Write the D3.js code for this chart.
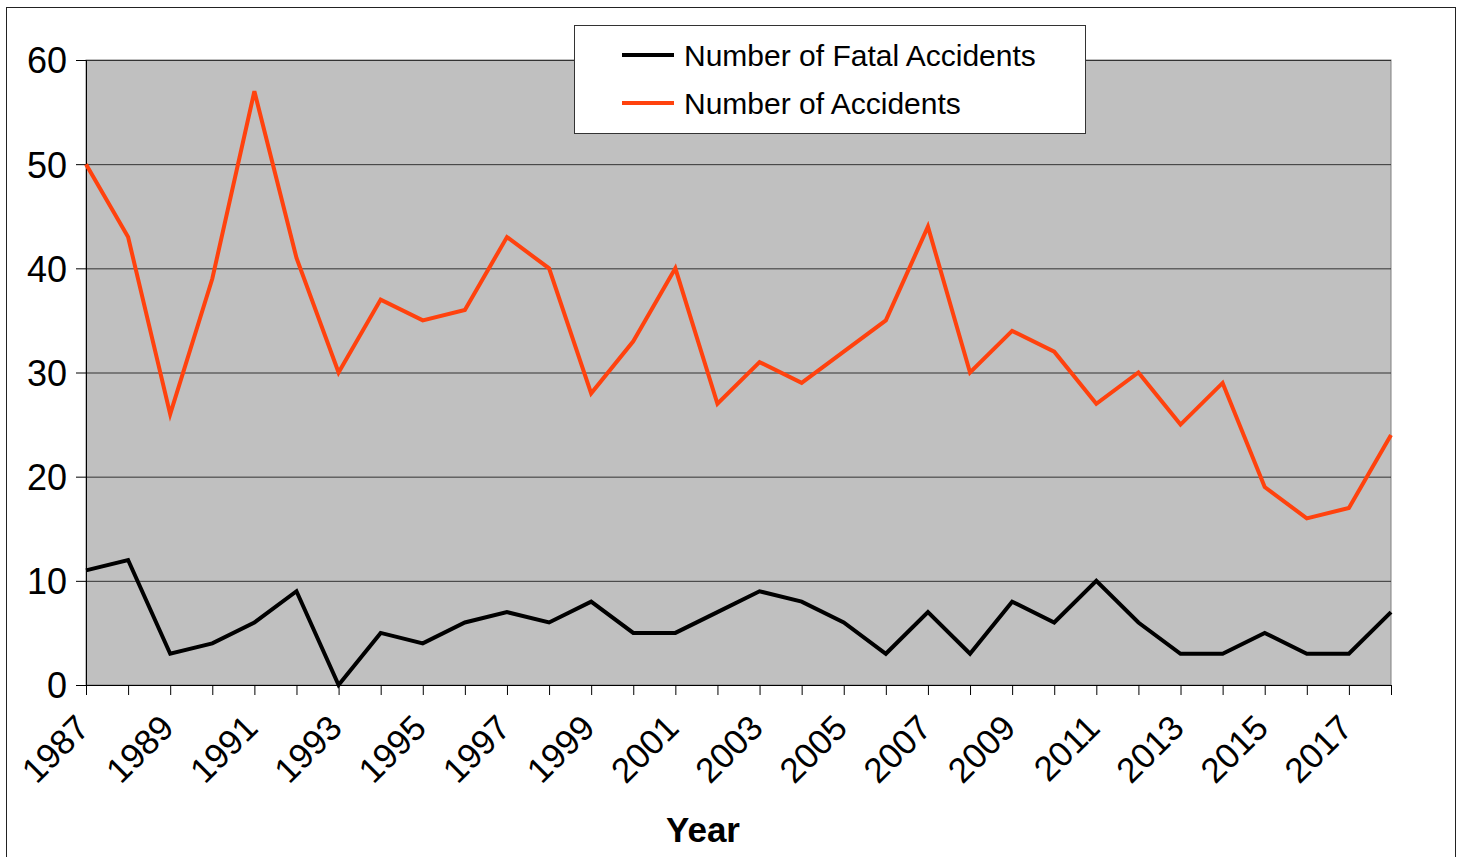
<!DOCTYPE html>
<html><head><meta charset="utf-8">
<script src="https://cdn.jsdelivr.net/npm/d3@7"></script>
<style>body{margin:0;background:#fff}svg{display:block}text{font-family:"Liberation Sans",Arial,sans-serif}</style>
</head><body>
<svg id="c" width="1463" height="857"></svg>
<script>
const years = [1987,1988,1989,1990,1991,1992,1993,1994,1995,1996,1997,1998,1999,2000,2001,2002,2003,2004,2005,2006,2007,2008,2009,2010,2011,2012,2013,2014,2015,2016,2017,2018];
const accidents = [50,43,26,39,57,41,30,37,35,36,43,40,28,33,40,27,31,29,32,35,44,30,34,32,27,30,25,29,19,16,17,24];
const fatal = [11,12,3,4,6,9,0,5,4,6,7,6,8,5,5,7,9,8,6,3,7,3,8,6,10,6,3,3,5,3,3,7];
const yTicks = [0,10,20,30,40,50,60];
const xLabels = years.filter((d,i)=>i%2===0);
const seriesNames = ["Number of Fatal Accidents","Number of Accidents"];
const seriesColors = ["#000000","#ff420e"];

const svg = d3.select("#c");
svg.append("rect").attr("x",6.5).attr("y",7.5).attr("width",1449).attr("height",860).attr("fill","#fff").attr("stroke","#222").attr("stroke-width",1);

const L=86,R=1391,T=60,B=685;
const x = d3.scaleLinear().domain([1987,2018]).range([L,R]);
const y = d3.scaleLinear().domain([0,60]).range([B,T]);

svg.append("rect").attr("x",L).attr("y",T).attr("width",R-L).attr("height",B-T).attr("fill","#c0c0c0").attr("stroke","#808080");

// gridlines
svg.append("g").selectAll("line").data(yTicks).join("line")
  .attr("x1",L).attr("x2",R).attr("y1",d=>y(d)+0.5).attr("y2",d=>y(d)+0.5)
  .attr("stroke","#333").attr("stroke-width",1);

// y axis
const ya = svg.append("g").attr("transform",`translate(${L},0)`)
  .call(d3.axisLeft(y).tickValues(yTicks).tickSize(10).tickPadding(9).tickFormat(d3.format("d")));
ya.select(".domain").attr("stroke","#000");
ya.selectAll("text").attr("font-size",36).attr("fill","#000").attr("dy","0.36em");

// x axis
const xa = svg.append("g").attr("transform",`translate(0,${B})`)
  .call(d3.axisBottom(x).tickValues(years).tickSize(10).tickFormat(d=> xLabels.includes(d)? String(d):""));
xa.select(".domain").attr("stroke","#000");
xa.selectAll("text").attr("font-size",35).attr("fill","#000")
  .attr("text-anchor","end").attr("dy",null).attr("y",0)
  .attr("transform","translate(5,45) rotate(-45)");

// lines
const line = d3.line().x((d,i)=>x(years[i])).y(d=>y(d));
[fatal, accidents].forEach((s,k)=>{
  svg.append("path").datum(s).attr("d",line).attr("fill","none")
    .attr("stroke",seriesColors[k]).attr("stroke-width",4).attr("stroke-linejoin","miter");
});

// legend
const lg = svg.append("g");
lg.append("rect").attr("x",574.5).attr("y",25.5).attr("width",511).attr("height",108).attr("fill","#fff").attr("stroke","#333");
seriesNames.forEach((n,i)=>{
  const yy = 55 + i*48;
  lg.append("line").attr("x1",622).attr("x2",674).attr("y1",yy).attr("y2",yy).attr("stroke",seriesColors[i]).attr("stroke-width",4);
  lg.append("text").attr("x",684).attr("y",yy).attr("dy","0.36em").attr("font-size",30).text(n);
});

svg.append("text").attr("x",703).attr("y",842).attr("text-anchor","middle").attr("font-size",35).attr("font-weight","bold").text("Year");
</script>
</body></html>
